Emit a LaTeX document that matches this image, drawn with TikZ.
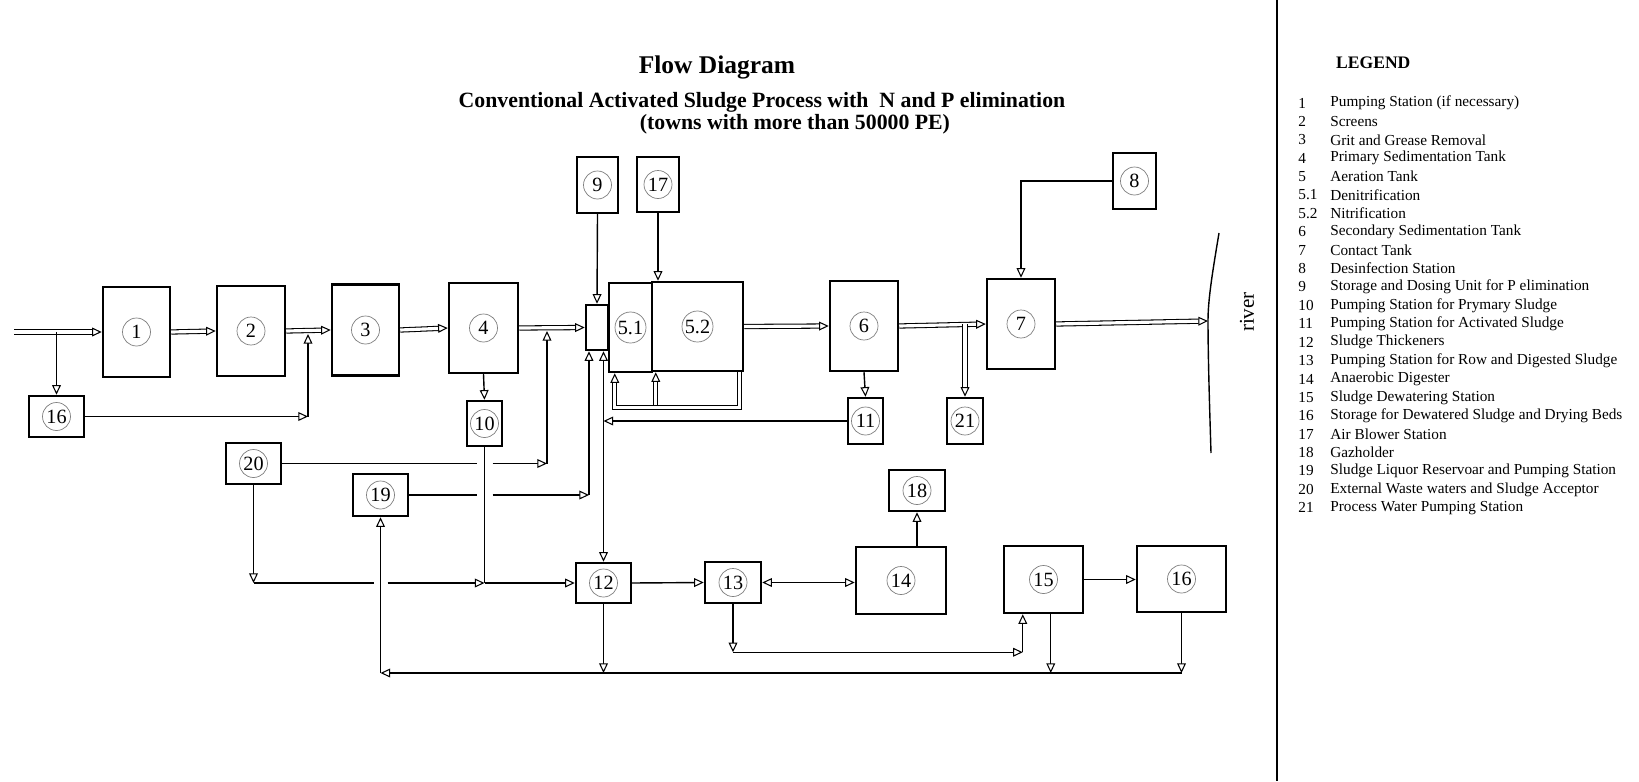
\documentclass[tikz,border=0pt]{standalone}
\usepackage{fontspec}
\setmainfont{Liberation Serif}
\usetikzlibrary{arrows.meta,calc}

\begin{document}
\begin{tikzpicture}[x=0.02cm,y=-0.02cm,hd/.tip={Triangle[length=5.5pt,width=5pt,fill=white,line width=0.6pt]},unit/.style 2 args={draw,line width=1.4pt,minimum width=#1*0.02cm,minimum height=#2*0.02cm},num/.style={circle,draw=black!50,line width=0.4pt,minimum size=0.56cm,inner sep=0.5pt,font=\fontsize{11.5}{13}\selectfont},pipe/.style={line width=0.8pt},flow/.style={double,double distance=1.8pt,line width=0.6pt},legtxt/.style={anchor=west,inner sep=0pt,font=\fontsize{8.7}{10}\selectfont}]
\fill[white] (0,0) rectangle (1639,781);
\useasboundingbox (0,0) rectangle (1639,781);
\node[font=\bfseries\fontsize{14.5}{17}\selectfont,anchor=base] (title) at (717,73) {Flow Diagram};
\node[font=\bfseries\fontsize{12.4}{15}\selectfont,anchor=base] (sub1) at (762,107) {Conventional Activated Sludge Process with\ \ N and P elimination};
\node[font=\bfseries\fontsize{12.4}{15}\selectfont,anchor=base] (sub2) at (795,129) {(towns with more than 50000 PE)};

\node[unit={67}{90},label={[num]center:1}] (b1) at (136.5,332) {};
\node[unit={68}{90},label={[num]center:2}] (b2) at (251,331) {};
\node[unit={67}{91},label={[num]center:3}] (b3) at (365.5,330) {};
\node[unit={69}{90},label={[num]center:4}] (b4) at (483.5,328) {};
\node[unit={55}{41},label={[num]center:16}] (s16) at (56.5,416.5) {};
\node[unit={35}{45},label={[num]center:10}] (b10) at (484.5,423.5) {};
\node[unit={55}{41},label={[num]center:20}] (b20) at (253.5,463.5) {};
\node[unit={55}{42},label={[num]center:19}] (b19) at (380.5,495) {};
\node[unit={41}{56},label={[num]center:9}] (b9) at (597.5,185) {};
\node[unit={42}{55},label={[num]center:17}] (b17) at (658,184.5) {};
\node[unit={22}{45}] (mix) at (597,327.5) {};
\node[unit={43}{89},label={[num]center:5.1}] (b51) at (630.5,327.5) {};
\node[unit={91}{89},label={[num]center:5.2}] (b52) at (697.5,326.5) {};
\node[unit={68}{90},label={[num]center:6}] (b6) at (864,326) {};
\node[unit={35}{46},label={[num]center:11}] (b11) at (865.5,421) {};
\node[unit={36}{46},label={[num]center:21}] (b21) at (965,421) {};
\node[unit={68}{90},label={[num]center:7}] (b7) at (1021,324) {};
\node[unit={43}{56},label={[num]center:8}] (b8) at (1134.5,181) {};
\node[unit={55}{40},label={[num]center:12}] (b12) at (603.5,583) {};
\node[unit={56}{41},label={[num]center:13}] (b13) at (733,582.5) {};
\node[unit={90}{67},label={[num]center:14}] (b14) at (901,580.5) {};
\node[unit={56}{41},label={[num]center:18}] (b18) at (917,490.5) {};
\node[unit={79}{67},label={[num]center:15}] (b15) at (1043.5,579.5) {};
\node[unit={89}{66},label={[num]center:16}] (b16) at (1181.5,579) {};

\coordinate (inlet) at (14,332);\coordinate (j23) at (308,334);\coordinate (j4m) at (547,331);
\coordinate (m1) at ($(mix.south)+(-8,0)$);\coordinate (riv) at (1208,321);\coordinate (bot) at (0,673);
\coordinate (j67) at (b21.north |- b7.west);\coordinate (r1) at ($(b52.south east)+(-5,0)$);
\coordinate (c20) at (b20.south |- b12.west);\coordinate (c13) at ($(b13.south)+(0,48)$);
\coordinate (u15) at ($(b15.south west)+(20,0)$);\coordinate (d15) at ($(b15.south west)+(48,0)$);

\draw[flow,-hd] (inlet) -- (b1.west);\draw[flow,-hd] (b1.east) -- (b2.west);\draw[flow,-hd] (b2.east) -- (b3.west);
\draw[flow,-hd] (b3.east) -- (b4.west);\draw[flow,-hd] (b4.east) -- (mix.west);
\draw[flow,-hd] (b52.east) -- (b6.west);\draw[flow,-hd] (b6.east) -- (b7.west);\draw[flow,-hd] (b7.east) -- (riv);
\draw[flow,-hd] (j67) -- (b21.north);
\draw[flow,-hd] (r1) -- ++(0,35) -| ($(b51.south west)+(7,0)$);\draw[flow,-hd] ($(b52.south west)+(5,33)$) -- ($(b52.south west)+(5,0)$);

\draw[pipe,-hd] (inlet -| s16.north) -- (s16.north);
\draw[pipe,-hd] (s16.east) -- (s16.east -| j23);\draw[pipe,-hd] (s16.east -| j23) -- (j23);
\draw[pipe,-hd] (b4.south) -- (b10.north);
\draw[pipe] (b20.east) -- ($(b20.east -| b10.south)+(-8,0)$);\draw[pipe,-hd] ($(b20.east -| b10.south)+(8,0)$) -- (b20.east -| j4m);\draw[pipe,-hd] (b20.east -| j4m) -- (j4m);
\draw[pipe] (b19.east) -- ($(b19.east -| b10.south)+(-8,0)$);\draw[pipe,-hd] ($(b19.east -| b10.south)+(8,0)$) -- (b19.east -| m1);\draw[pipe,-hd] (b19.east -| m1) -- (m1);
\draw[pipe,hd-hd] (mix.south -| b12.north) -- (b12.north);\draw[pipe,-hd] (b11.west) -- (b11.west -| b12.north);
\draw[pipe,-hd] (b6.south) -- (b11.north);\draw[pipe,-hd] (b8.west) -| (b7.north);
\draw[pipe,-hd] (b9.south) -- (mix.north);\draw[pipe,-hd] (b17.south) -- (b17.south |- b52.north);

\draw[pipe,-hd] (b20.south) -- (c20);\draw[pipe] (c20) -- ($(c20 -| b19.south)+(-7,0)$);\draw[pipe,-hd] ($(c20 -| b19.south)+(7,0)$) -- (c20 -| b10.south);
\draw[pipe] (b10.south) -- (c20 -| b10.south);\draw[pipe,-hd] (c20 -| b10.south) -- (b12.west);
\draw[pipe,-hd] (b12.east) -- (b13.west);\draw[pipe,hd-hd] (b13.east) -- (b13.east -| b14.west);
\draw[pipe,-hd] (b14.north -| b18.south) -- (b18.south);\draw[pipe,-hd] (b15.east) -- (b15.east -| b16.west);
\draw[pipe,-hd] (b13.south) -- (c13);\draw[pipe,-hd] (c13) -- (c13 -| u15);\draw[pipe,-hd] (c13 -| u15) -- (u15);
\draw[pipe,-hd] (d15) -- (d15 |- bot);\draw[pipe,-hd] (b16.south) -- (b16.south |- bot);\draw[pipe,-hd] (b12.south) -- (b12.south |- bot);
\draw[pipe,-hd] (b16.south |- bot) -- (b19.south |- bot);\draw[pipe,-hd] (b19.south |- bot) -- (b19.south);

\draw[pipe] (1219,233) .. controls (1212,275) and (1208,300) .. (riv) .. controls (1208,360) and (1210,420) .. (1211,453);
\node[rotate=90,font=\fontsize{12}{14}\selectfont] (rivlbl) at (1247,312) {river};
\draw[line width=1pt] (1277,0) -- (1277,781);

\node[font=\bfseries\fontsize{10}{12}\selectfont,anchor=base west] (legend) at (1330,68) {LEGEND};
\foreach \k/\txt [count=\i from 0] in {1/{Pumping Station (if necessary)},2/Screens,3/Grit and Grease Removal,4/Primary Sedimentation Tank,5/Aeration Tank,5.1/Denitrification,5.2/Nitrification,6/Secondary Sedimentation Tank,7/Contact Tank,8/Desinfection Station,9/Storage and Dosing Unit for P elimination,10/Pumping Station for Prymary Sludge,11/Pumping Station for Activated Sludge,12/Sludge Thickeners,13/Pumping Station for Row and Digested Sludge,14/Anaerobic Digester,15/Sludge Dewatering Station,16/Storage for Dewatered Sludge and Drying Beds,17/Air Blower Station,18/Gazholder,19/Sludge Liquor Reservoar and Pumping Station,20/External Waste waters and  Sludge Acceptor,21/Process Water Pumping Station}{
\node[legtxt] (n\i) at (1298,103+18.4*\i) {\k};\node[legtxt] (t\i) at (1330,103+18.4*\i) {\txt};}
\end{tikzpicture}
\end{document}
